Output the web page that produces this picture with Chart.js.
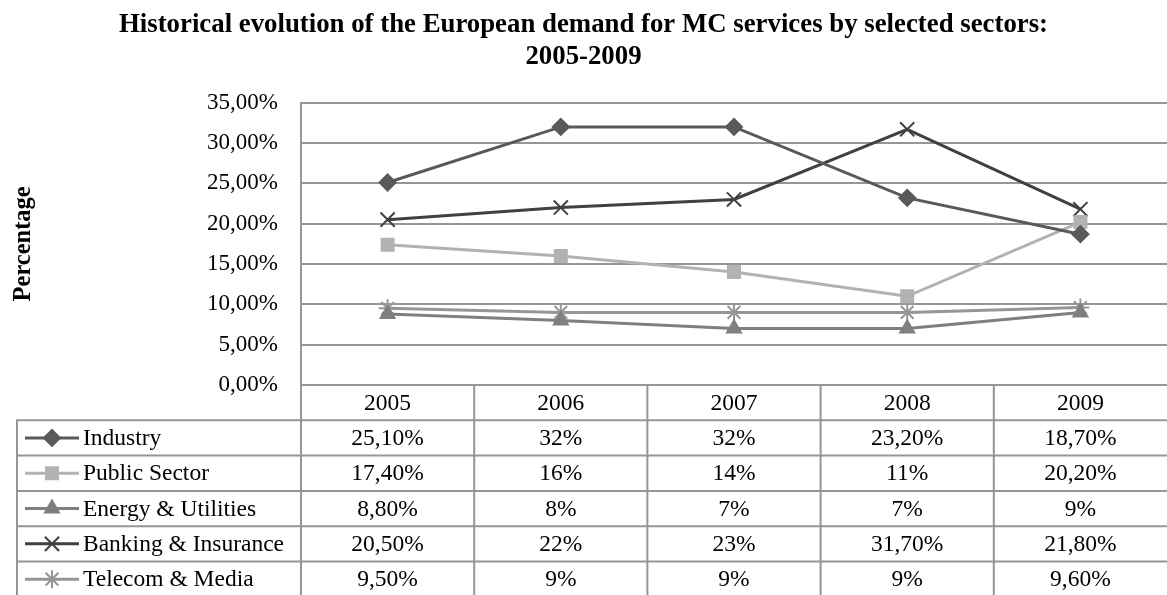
<!DOCTYPE html>
<html>
<head>
<meta charset="utf-8">
<script src="https://cdn.jsdelivr.net/npm/chart.js"></script>
<style>
  html, body { margin: 0; padding: 0; background: #ffffff; overflow: hidden; }
  #wrap { width: 1167px; height: 595px; }
  canvas { display: block; }
</style>
</head>
<body>
<div id="wrap"><canvas id="chart" width="1167" height="595"></canvas></div>
<script>
// Years shown along the category axis and in the table header
const years = ['2005', '2006', '2007', '2008', '2009'];

// Share of demand per sector (percent)
const industry = [25.1, 32, 32, 23.2, 18.7];
const publicSector = [17.4, 16, 14, 11, 20.2];
const energyUtilities = [8.8, 8, 7, 7, 9];
const bankingInsurance = [20.5, 22, 23, 31.7, 21.8];
const telecomMedia = [9.5, 9, 9, 9, 9.6];

// Y axis range and tick step (percent)
const yMin = 0;
const yMax = 35;
const yStep = 5;

const seriesNames = ['Industry', 'Public Sector', 'Energy & Utilities', 'Banking & Insurance', 'Telecom & Media'];
const seriesValues = [industry, publicSector, energyUtilities, bankingInsurance, telecomMedia];

const SERIF = "'Liberation Serif', 'Times New Roman', serif";
const GRID = '#969696';

const styles = [
  { color: '#595959', point: 'rectRot', radius: 8 },
  { color: '#b2b2b2', point: 'rect', radius: 8.5 },
  { color: '#7f7f7f', point: 'triangle', radius: 8 },
  { color: '#404040', point: 'crossRot', radius: 10 },
  { color: '#969696', point: 'star', radius: 9 }
];

function pctAxis(v) {
  return v.toFixed(2).replace('.', ',') + '%';
}
function pctCell(v) {
  return Number.isInteger(v) ? v + '%' : v.toFixed(2).replace('.', ',') + '%';
}

const datasets = seriesNames.map((name, i) => ({
  label: name,
  data: seriesValues[i],
  borderColor: styles[i].color,
  backgroundColor: styles[i].color,
  borderWidth: 3,
  pointStyle: styles[i].point,
  pointRadius: styles[i].radius,
  pointHoverRadius: styles[i].radius,
  pointBorderColor: styles[i].color,
  pointBackgroundColor: styles[i].color,
  pointBorderWidth: 2,
  tension: 0,
  fill: false,
  clip: false
}));

// Draws the data table (header years, legend keys, values) under the plot
const dataTable = {
  id: 'dataTable',
  afterDraw(chart) {
    const ctx = chart.ctx;
    const area = chart.chartArea;
    const xs = chart.scales.x;
    const n = years.length;
    const colW = (area.right - area.left) / n;
    const rowH = 35.3;
    const top = area.bottom;
    const bottom = chart.height + 2;
    const legendLeft = 17;

    ctx.save();
    ctx.strokeStyle = GRID;
    ctx.lineWidth = 2;

    // vertical rules
    ctx.beginPath();
    ctx.moveTo(area.left, top);
    ctx.lineTo(area.left, bottom);
    for (let i = 1; i < n; i++) {
      const x = area.left + colW * i;
      ctx.moveTo(x, top);
      ctx.lineTo(x, bottom);
    }
    ctx.moveTo(legendLeft, top + rowH);
    ctx.lineTo(legendLeft, bottom);
    // horizontal rules
    for (let r = 1; r <= seriesNames.length; r++) {
      const y = top + rowH * r;
      ctx.moveTo(legendLeft - 1, y);
      ctx.lineTo(area.right, y);
    }
    ctx.stroke();

    ctx.fillStyle = '#000';
    ctx.font = '23.5px ' + SERIF;
    ctx.textBaseline = 'middle';
    ctx.textAlign = 'center';

    // header years
    years.forEach((y, i) => {
      ctx.fillText(y, xs.getPixelForValue(i), top + rowH / 2 + 1);
    });

    // series rows
    seriesNames.forEach((name, r) => {
      const cy = top + rowH * (r + 1) + rowH / 2;
      const st = styles[r];
      // legend key
      ctx.strokeStyle = st.color;
      ctx.lineWidth = 3;
      ctx.beginPath();
      ctx.moveTo(25, cy);
      ctx.lineTo(79, cy);
      ctx.stroke();
      ctx.fillStyle = st.color;
      ctx.lineWidth = 2;
      Chart.helpers.drawPoint(ctx, {
        pointStyle: st.point,
        radius: st.radius,
        rotation: 0,
        borderWidth: 2
      }, 52, cy);

      ctx.fillStyle = '#000';
      ctx.textAlign = 'left';
      ctx.fillText(name, 83, cy + 1);
      ctx.textAlign = 'center';
      seriesValues[r].forEach((v, i) => {
        ctx.fillText(pctCell(v), xs.getPixelForValue(i), cy + 1);
      });
    });
    ctx.restore();
  }
};

new Chart(document.getElementById('chart'), {
  type: 'line',
  data: { labels: years, datasets },
  plugins: [dataTable],
  options: {
    responsive: false,
    animation: false,
    devicePixelRatio: 1,
    layout: { autoPadding: false, padding: { left: 0, right: 0, top: 0, bottom: 0 } },
    plugins: {
      legend: { display: false },
      tooltip: { enabled: false },
      title: {
        display: true,
        text: ['Historical evolution of the European demand for MC services by selected sectors:', '2005-2009'],
        color: '#000',
        font: { family: SERIF, size: 26.8, weight: 'bold', lineHeight: 1.19 },
        padding: { top: 9.5, bottom: 29.4 }
      }
    },
    scales: {
      x: {
        type: 'category',
        offset: true,
        grid: { display: false },
        border: { display: false },
        ticks: { display: false },
        afterFit(scale) { scale.height = 210; }
      },
      y: {
        min: yMin,
        max: yMax,
        ticks: {
          stepSize: yStep,
          padding: 23,
          color: '#000',
          font: { family: SERIF, size: 23 },
          callback: (v) => pctAxis(v)
        },
        grid: { color: GRID, lineWidth: 2, drawTicks: false },
        border: { display: true, color: GRID, width: 2 },
        title: {
          display: true,
          text: 'Percentage',
          color: '#000',
          font: { family: SERIF, size: 24.5, weight: 'bold' },
          padding: { top: 8.5, bottom: 0 }
        },
        afterFit(scale) { scale.width = 301; }
      }
    }
  }
});
</script>
</body>
</html>
